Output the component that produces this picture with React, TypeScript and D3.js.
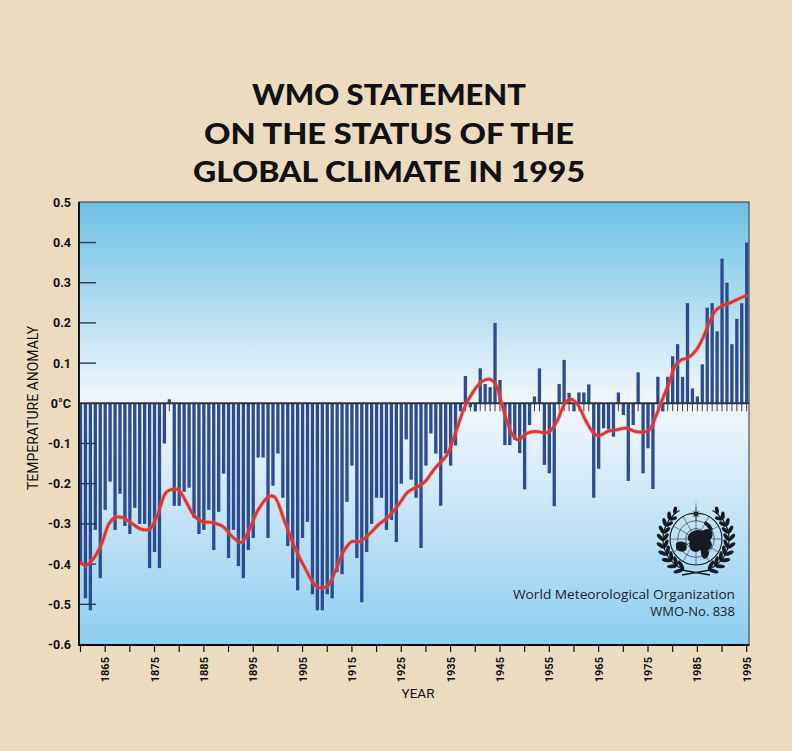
import React from "react";
import * as d3 from "d3";

const years: number[] = d3.range(1860, 1996);
const anomalies: number[] = [
  -0.40, -0.485, -0.515, -0.315, -0.435, -0.265, -0.195, -0.315, -0.225, -0.305,
  -0.325, -0.26, -0.30, -0.30, -0.41, -0.37, -0.41, -0.10, 0.01, -0.255,
  -0.255, -0.22, -0.21, -0.285, -0.325, -0.315, -0.265, -0.365, -0.27, -0.175,
  -0.385, -0.315, -0.405, -0.435, -0.365, -0.335, -0.135, -0.135, -0.335, -0.205,
  -0.125, -0.235, -0.355, -0.435, -0.465, -0.335, -0.295, -0.475, -0.515, -0.515,
  -0.475, -0.485, -0.42, -0.425, -0.245, -0.155, -0.385, -0.495, -0.37, -0.30,
  -0.235, -0.235, -0.315, -0.29, -0.345, -0.20, -0.09, -0.19, -0.235, -0.36,
  -0.155, -0.075, -0.125, -0.255, -0.125, -0.155, -0.105, -0.02, 0.068, -0.01,
  -0.02, 0.087, 0.048, 0.04, 0.20, 0.058, -0.104, -0.104, -0.091, -0.124,
  -0.214, -0.054, 0.017, 0.087, -0.153, -0.174, -0.256, 0.048, 0.108, 0.026,
  -0.02, 0.027, 0.027, 0.047, -0.235, -0.163, -0.062, -0.065, -0.083, 0.027,
  -0.029, -0.193, -0.054, 0.077, -0.174, -0.112, -0.213, 0.066, -0.02, 0.066,
  0.117, 0.147, 0.066, 0.249, 0.037, 0.017, 0.097, 0.238, 0.249, 0.179,
  0.36, 0.30, 0.147, 0.21, 0.249, 0.40,
];

const smoothYears: number[] = [
  1860, 1861, 1862.5, 1864.2, 1865.8, 1867, 1868.5, 1870.2, 1872.3, 1874,
  1875.6, 1877.3, 1878.5, 1879.8, 1881.4, 1883.1, 1884.8, 1886.4, 1888.8, 1890.8,
  1892.6, 1894.2, 1896, 1898.2, 1899.3, 1901.4, 1903.5, 1905.5, 1907.9, 1909.9,
  1911.6, 1913.3, 1915, 1916.6, 1918.3, 1920.3, 1922.4, 1924.4, 1926.4, 1928.2,
  1929.8, 1931.8, 1934.2, 1936.2, 1937.9, 1939.6, 1941.3, 1942.8, 1944, 1945.7,
  1947.4, 1948.7, 1950.4, 1952.1, 1954.8, 1956.5, 1958.2, 1959.5, 1960.9, 1962.5,
  1964.2, 1965.2, 1966.9, 1968.6, 1970.6, 1972.3, 1974.3, 1975.3, 1976.7, 1978,
  1979.4, 1980.4, 1981.7, 1983.1, 1984.8, 1986.1, 1987.5, 1988.8, 1990.5, 1991.9,
  1993.2, 1995,
];
const smoothValues: number[] = [
  -0.395, -0.404, -0.388, -0.352, -0.299, -0.284, -0.284, -0.297, -0.313, -0.313,
  -0.278, -0.222, -0.214, -0.215, -0.245, -0.281, -0.295, -0.296, -0.306, -0.332,
  -0.346, -0.315, -0.265, -0.232, -0.233, -0.295, -0.361, -0.41, -0.456, -0.456,
  -0.419, -0.369, -0.344, -0.344, -0.328, -0.303, -0.282, -0.253, -0.22, -0.208,
  -0.195, -0.162, -0.129, -0.066, -0.008, 0.029, 0.054, 0.06, 0.05, -0.017,
  -0.075, -0.091, -0.075, -0.07, -0.072, -0.046, 0.0, 0.01, -0.006, -0.046,
  -0.077, -0.08, -0.07, -0.066, -0.062, -0.07, -0.071, -0.066, -0.029, 0.012,
  0.054, 0.091, 0.108, 0.113, 0.133, 0.162, 0.203, 0.232, 0.245, 0.251,
  0.259, 0.269,
];

const yTicks: number[] = [0.5, 0.4, 0.3, 0.2, 0.1, 0, -0.1, -0.2, -0.3, -0.4, -0.5, -0.6];
const yTickLabels: string[] = ["0.5", "0.4", "0.3", "0.2", "0.1", "0°C", "-0.1", "-0.2", "-0.3", "-0.4", "-0.5", "-0.6"];
const xTickYears: number[] = d3.range(1860, 1996, 5);
const xLabelYears: number[] = d3.range(1865, 1996, 10);
const titleLines: string[] = ["WMO STATEMENT", "ON THE STATUS OF THE", "GLOBAL CLIMATE IN 1995"];

const W = 792;
const H = 751;
const L = 79;
const R = 749;
const T = 202;
const B = 645;

const condensed = "'Liberation Sans Narrow', 'Roboto', 'Liberation Sans', sans-serif";

function Logo({ cx, cy }: { cx: number; cy: number }) {
  const r = 26;
  const dark = "#161a24";
  const Rw = 33;
  const leaves: JSX.Element[] = [];
  for (let k = 0; k < 10; k++) {
    const phiDeg = 68 - k * 13;
    const phi = (phiDeg * Math.PI) / 180;
    const px = cx - Rw * Math.cos(phi);
    const py = cy + Rw * Math.sin(phi);
    const dirAng = (Math.atan2(-Math.cos(phi), -Math.sin(phi)) * 180) / Math.PI;
    [-38, 38].forEach((off, j) => {
      if (k === 9 && j === 1) return;
      const a = ((dirAng + off) * Math.PI) / 180;
      const len = 5.2 - k * 0.15;
      const ex = px + Math.cos(a) * len;
      const ey = py + Math.sin(a) * len;
      leaves.push(
        <ellipse key={`${k}-${j}`} cx={ex} cy={ey} rx={len} ry={1.9}
          transform={`rotate(${dirAng + off} ${ex} ${ey})`} fill={dark} />
      );
    });
  }
  const stem = d3.range(68, -62, -4).map((d) => {
    const p = (d * Math.PI) / 180;
    return [cx - Rw * Math.cos(p), cy + Rw * Math.sin(p)] as [number, number];
  });
  const stemPath = d3.line()(stem) || "";

  const starPts: string[] = [];
  for (let k = 0; k < 16; k++) {
    const a = (k * Math.PI) / 8 - Math.PI / 2;
    const rr = k === 0 ? 13 : k % 4 === 0 ? 9 : k % 2 === 0 ? 5 : 1.6;
    starPts.push(`${cx + Math.cos(a) * rr},${cy - r + 1 + Math.sin(a) * rr}`);
  }
  return (
    <g>
      <g>
        {leaves}
        <path d={stemPath} stroke={dark} strokeWidth={1.2} fill="none" />
      </g>
      <g transform={`translate(${2 * cx},0) scale(-1,1)`}>
        {leaves}
        <path d={stemPath} stroke={dark} strokeWidth={1.2} fill="none" />
      </g>
      <path d={`M${cx - 14},${cy + 31} L${cx + 14},${cy + 36} M${cx + 14},${cy + 31} L${cx - 14},${cy + 36}`}
        stroke={dark} strokeWidth={1.6} fill="none" />
      <circle cx={cx} cy={cy} r={r} fill="none" stroke={dark} strokeWidth={1.1} />
      <circle cx={cx} cy={cy} r={r * 0.7} fill="none" stroke={dark} strokeWidth={0.6} />
      <circle cx={cx} cy={cy} r={r * 0.4} fill="none" stroke={dark} strokeWidth={0.6} />
      {d3.range(0, 180, 30).map((a) => {
        const rad = (a * Math.PI) / 180;
        return (
          <line key={a} x1={cx - Math.cos(rad) * r} y1={cy - Math.sin(rad) * r}
            x2={cx + Math.cos(rad) * r} y2={cy + Math.sin(rad) * r} stroke={dark} strokeWidth={0.5} />
        );
      })}
      <path d={`M${cx - 6},${cy - 6} q6,-5 12,-2 q6,-4 10,0 q2,5 -2,9 q4,5 0,9 q-5,5 -10,1 q-4,4 -9,0 q-3,-6 -1,-8 q-5,-3 0,-9 z`} fill={dark} />
      <path d={`M${cx - 20},${cy + 4} q5,-3 10,0 q2,5 -1,8 q-5,2 -9,-2 z`} fill={dark} />
      <path d={`M${cx + 5},${cy + 10} q5,-1 8,3 q0,6 -5,7 q-4,-3 -3,-10 z`} fill={dark} />
      <path d={`M${cx + 9},${cy - 18} q5,2 8,8 l-3,2 q-3,-5 -6,-7 z`} fill={dark} />
      <polygon points={starPts.join(" ")} fill={dark} />
    </g>
  );
}

export default function App() {
  const x = d3.scaleLinear().domain([1860, 1995]).range([80.5, 746.7]);
  const y = d3.scaleLinear().domain([-0.6, 0.5]).range([644.5, 202.3]);
  const y0 = y(0);
  const barW = 3.3;

  const line = d3
    .line<number>()
    .x((_, i) => x(smoothYears[i]))
    .y((d) => y(d))
    .curve(d3.curveCatmullRom.alpha(0.5));

  return (
    <div style={{ position: "absolute", left: 0, top: 0, width: W, height: H }}>
      <svg width={W} height={H} style={{ display: "block" }}>
        <defs>
          <linearGradient id="bg" x1="0" y1={T} x2="0" y2={B} gradientUnits="userSpaceOnUse">
            <stop offset="0" stopColor="#6cc0e4" />
            <stop offset={((y0 - T) / (B - T)).toString()} stopColor="#f3f8fb" />
            <stop offset="1" stopColor="#8ecdf1" />
          </linearGradient>
        </defs>
        <rect x={0} y={0} width={W} height={H} fill="#ebdcc0" />

        {titleLines.map((t, i) => (
          <text key={t} x={389} y={105 + i * 38.5} textAnchor="middle"
            fontFamily="Lato, 'Open Sans', sans-serif" fontWeight={900} fontSize={29}
            fill="#111" textLength={[274, 370, 392][i]} lengthAdjust="spacingAndGlyphs">
            {t}
          </text>
        ))}

        <rect x={L} y={T} width={R - L} height={B - T} fill="url(#bg)" />

        {years.map((yr) => (
          <line key={`zt${yr}`} x1={x(yr)} x2={x(yr)} y1={y0} y2={y0 + 8} stroke="#3b3f47" strokeWidth={1} />
        ))}

        {years.map((yr, i) => {
          const v = anomalies[i];
          const top = Math.min(y(v), y0);
          const h = Math.abs(y(v) - y0);
          return <rect key={`b${yr}`} x={x(yr) - barW / 2} y={top} width={barW} height={h} fill="#2c4b91" />;
        })}

        <line x1={L} x2={R} y1={y0} y2={y0} stroke="#2a3346" strokeWidth={2} />

        {yTicks.filter((v) => v !== 0 && v !== 0.5 && v !== -0.6).map((v) => (
          <line key={`yt${v}`} x1={L} x2={L + 17} y1={y(v)} y2={y(v)} stroke="#2a3a4c" strokeWidth={1.4} />
        ))}

        <path d={line(smoothValues) || ""} fill="none" stroke="#f07a70" strokeWidth={4.6} strokeOpacity={0.4} strokeLinejoin="round" />
        <path d={line(smoothValues) || ""} fill="none" stroke="#e0342c" strokeWidth={2.8} strokeLinejoin="round" strokeLinecap="round" />

        <rect x={L} y={T} width={R - L} height={B - T} fill="none" stroke="#2a3346" strokeWidth={1} />
        <line x1={L} x2={L} y1={T} y2={B + 1} stroke="#111" strokeWidth={2} />
        <line x1={L - 1} x2={R + 0.5} y1={B} y2={B} stroke="#111" strokeWidth={2} />

        {yTicks.map((v, i) => (
          <text key={`yl${v}`} x={71} y={y(v) + 4.5} textAnchor="end" fontFamily={condensed}
            fontWeight={700} fontSize={12.5} fill="#111">
            {yTickLabels[i]}
          </text>
        ))}

        {xTickYears.map((yr) => (
          <line key={`xt${yr}`} x1={x(yr)} x2={x(yr)} y1={B} y2={B + 7} stroke="#111" strokeWidth={1.2} />
        ))}
        {xLabelYears.map((yr) => (
          <text key={`xl${yr}`} transform={`translate(${x(yr) + 4},${657}) rotate(-90)`} textAnchor="end"
            fontFamily={condensed} fontWeight={700} fontSize={11} fill="#111">
            {yr}
          </text>
        ))}

        <text x={418} y={698} textAnchor="middle" fontFamily={condensed} fontSize={13.5} fill="#111">YEAR</text>
        <text transform={`translate(38,408) rotate(-90)`} textAnchor="middle" fontFamily={condensed}
          fontSize={14} fill="#111">TEMPERATURE ANOMALY</text>

        <Logo cx={696} cy={539} />
        <text x={735} y={599} textAnchor="end" fontFamily="'Open Sans', 'Lato', sans-serif" fontSize={13.4} fill="#1b1f2a"
          textLength={222} lengthAdjust="spacingAndGlyphs">
          World Meteorological Organization
        </text>
        <text x={735} y={616} textAnchor="end" fontFamily="'Open Sans', 'Lato', sans-serif" fontSize={13} fill="#1b1f2a">
          WMO-No. 838
        </text>
      </svg>
    </div>
  );
}
